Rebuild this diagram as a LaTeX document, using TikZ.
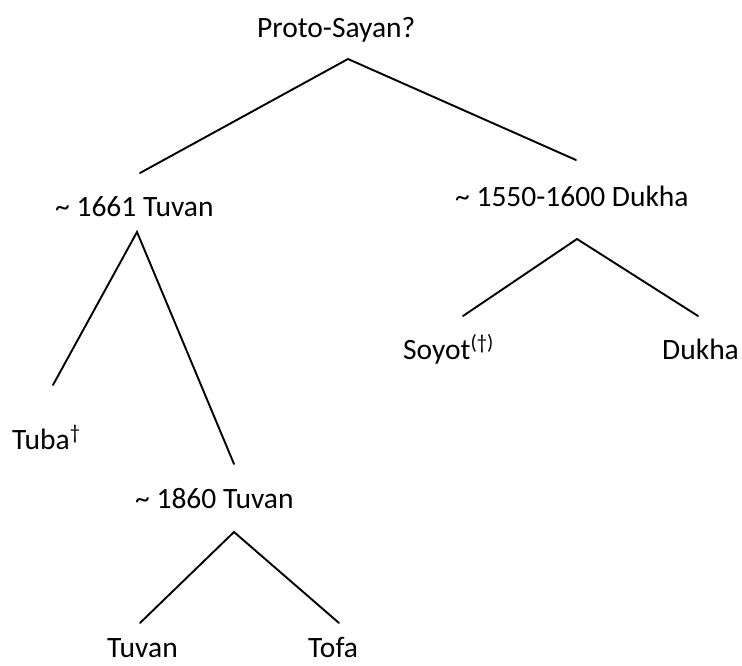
\documentclass[tikz,border=0pt]{standalone}
\usepackage{fontspec}
\setmainfont{Carlito}
\usepackage{tikz}

\begin{document}
\begin{tikzpicture}
          [
            x=1pt, y=-1pt,
            lang/.style={anchor=base west, inner sep=0pt, font=\fontsize{29.5}{33}\selectfont},
            branch/.style={line width=1.9pt, line cap=round}
          ]
          \useasboundingbox (0,0) rectangle (742,666);
          % labels
          \node [lang] (proto) at (257,38) {Proto-Sayan?};
          \node [lang] (tuvanA) at (55,216) {\char`\~{} 1661 Tuvan};
          \node [lang] (dukhaA) at (455,206) {\char`\~{} 1550-1600 Dukha};
          \node [lang] (tuba) at (12,449) {Tuba\textsuperscript{†}};
          \node [lang] (tuvanB) at (135,508) {\char`\~{} 1860 Tuvan};
          \node [lang] (soyot) at (403,359) {Soyot\textsuperscript{(†)}};
          \node [lang] (dukha) at (662,359) {Dukha};
          \node [lang] (tuvan) at (107,657) {Tuvan};
          \node [lang] (tofa) at (308,657) {Tofa};
          % branch points
          \coordinate (protoTop) at (348,59);
          \coordinate (tuvanATop) at (137,232);
          \coordinate (dukhaATop) at (577,239);
          \coordinate (tuvanBTop) at (234,532);
          \coordinate (tuvanAEnd) at (140,173);
          \coordinate (dukhaAEnd) at (576,160);
          \coordinate (tubaEnd) at (53,385);
          \coordinate (tuvanBEnd) at (234,464);
          \coordinate (soyotEnd) at (463,316);
          \coordinate (dukhaEnd) at (698,316);
          \coordinate (tuvanEnd) at (140,623);
          \coordinate (tofaEnd) at (339,623);
          % edges
          \draw [branch] (tuvanAEnd) -- (protoTop) -- (dukhaAEnd);
          \draw [branch] (tubaEnd) -- (tuvanATop) -- (tuvanBEnd);
          \draw [branch] (soyotEnd) -- (dukhaATop) -- (dukhaEnd);
          \draw [branch] (tuvanEnd) -- (tuvanBTop) -- (tofaEnd);
        \end{tikzpicture}
\end{document}
